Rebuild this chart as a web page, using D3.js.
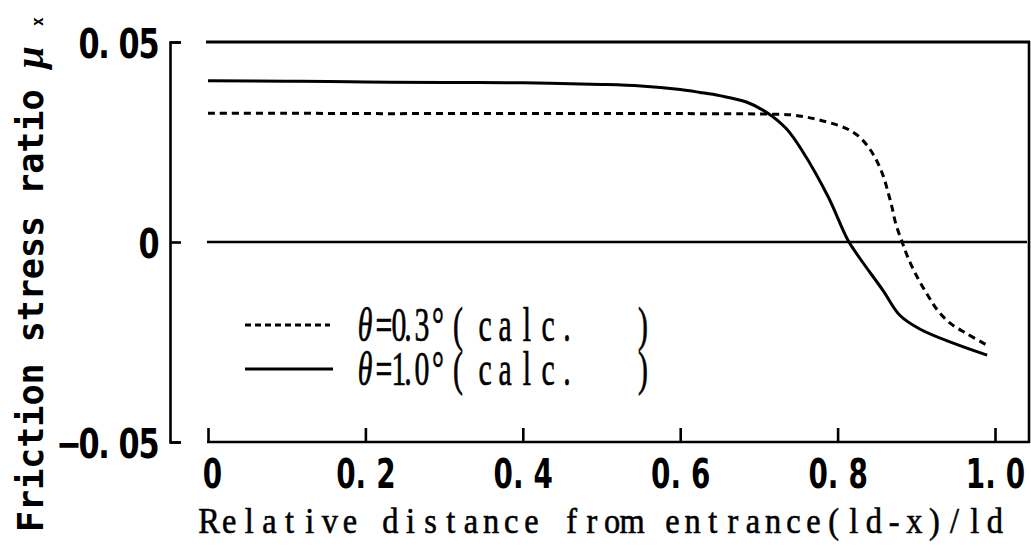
<!DOCTYPE html>
<html>
<head>
<meta charset="utf-8">
<script src="https://cdn.jsdelivr.net/npm/d3@7"></script>
<style>
  body { margin: 0; background: #fff; }
  svg { display: block; }
</style>
</head>
<body>
<svg id="chart" width="1031" height="552"></svg>
<script>
// ---- data ----
const xTickValues = [0, 0.2, 0.4, 0.6, 0.8, 1.0];
const xTickLabels = ["0", "0.2", "0.4", "0.6", "0.8", "1.0"];
const yTickValues = [-0.05, 0, 0.05];
const yTickLabels = ["\u22120.05", "0", "0.05"];
const legendAngles = ["0.3", "1.0"];

// theta = 0.3 deg (calc.)
const dist03  = [0.000, 0.100, 0.200, 0.300, 0.400, 0.500, 0.600, 0.700, 0.740, 0.761, 0.777, 0.800, 0.815, 0.828, 0.840, 0.850, 0.858, 0.864, 0.869, 0.874, 0.882, 0.889, 0.901, 0.913, 0.926, 0.943, 0.964, 0.989];
const ratio03 = [0.0322, 0.0322, 0.0321, 0.0321, 0.0321, 0.0321, 0.0321, 0.0320, 0.0318, 0.0312, 0.0305, 0.0292, 0.0280, 0.0262, 0.0235, 0.0202, 0.0165, 0.0125, 0.0088, 0.0045, 0.0000, -0.0037, -0.0087, -0.0128, -0.0168, -0.0203, -0.0229, -0.0257];

// theta = 1.0 deg (calc.)
const dist10  = [0.000, 0.100, 0.200, 0.300, 0.400, 0.500, 0.550, 0.600, 0.625, 0.650, 0.684, 0.710, 0.735, 0.756, 0.788, 0.813, 0.828, 0.858, 0.879, 0.905, 0.947, 0.990];
const ratio10 = [0.0403, 0.0402, 0.0400, 0.0399, 0.0398, 0.0394, 0.0390, 0.0381, 0.0374, 0.0366, 0.0350, 0.0324, 0.0283, 0.0225, 0.0113, 0.0005, -0.0040, -0.0122, -0.0183, -0.0218, -0.0253, -0.0283];

// ---- layout ----
const svg = d3.select("#chart");
svg.append("rect").attr("width", 1031).attr("height", 552).attr("fill", "#fff");

const x = d3.scaleLinear().domain([0, 1]).range([208, 995]);
const y = d3.scaleLinear().domain([-0.05, 0.05]).range([442, 42]);

const tickFont = "'DejaVu Sans', 'Liberation Sans', sans-serif";
const serifFont = "'Liberation Serif', 'DejaVu Serif', serif";

// fixed-pitch text: each glyph centred in its own cell, periods sit left in theirs
function cellText(parent, str, firstCenter, cell, baseline, sx, opts) {
  const chars = Array.from(str);
  const xs = chars.map((c, i) => (i * cell + (c === "." ? (opts.dotShift || 0) : 0)) / sx);
  const t = parent.append("text")
    .attr("transform", `translate(${firstCenter},${baseline}) scale(${sx},1)`)
    .attr("x", xs.join(" "))
    .attr("y", 0)
    .attr("text-anchor", "middle")
    .attr("font-family", opts.family)
    .attr("font-size", opts.size)
    .attr("font-weight", opts.weight || "normal")
    .attr("fill", "#000");
  if (opts.stroke) t.attr("stroke", "#000").attr("stroke-width", opts.stroke);
  t.text(str);
  return t;
}

// frame lines
svg.append("line")
  .attr("x1", 206).attr("x2", 1030)
  .attr("y1", y(0.05)).attr("y2", y(0.05))
  .attr("stroke", "#000").attr("stroke-width", 3);
svg.append("line")
  .attr("x1", 207).attr("x2", 1027)
  .attr("y1", y(0)).attr("y2", y(0))
  .attr("stroke", "#000").attr("stroke-width", 2.6);
svg.append("line")
  .attr("x1", 1029).attr("x2", 1029)
  .attr("y1", 41).attr("y2", 443)
  .attr("stroke", "#000").attr("stroke-width", 2.6);
svg.append("line")
  .attr("x1", 207).attr("x2", 1030)
  .attr("y1", y(-0.05)).attr("y2", y(-0.05))
  .attr("stroke", "#000").attr("stroke-width", 2.6);

// x axis: ticks point upward
const xAxisG = svg.append("g")
  .attr("transform", `translate(0,${y(-0.05)})`)
  .call(d3.axisBottom(x).tickValues(xTickValues).tickSizeInner(-14).tickSizeOuter(0).tickFormat(() => ""));
xAxisG.select(".domain").remove();
xAxisG.selectAll(".tick line").attr("stroke", "#000").attr("stroke-width", 2.6);
xAxisG.selectAll(".tick text").remove();
xAxisG.selectAll(".tick").each(function (d, i) {
  const lab = xTickLabels[i];
  const cell = 20;
  const first = (lab.length === 1 ? 4 : 0) - ((lab.length - 1) * cell) / 2;
  cellText(d3.select(this), lab, first, cell, 46, 0.68,
    { family: tickFont, size: 41, weight: "bold", dotShift: -5 });
});

// separate y axis: ticks point right
const yAxisG = svg.append("g")
  .attr("transform", "translate(170,0)")
  .call(d3.axisLeft(y).tickValues(yTickValues).tickSizeInner(-11).tickSizeOuter(-11).tickFormat(() => ""));
yAxisG.select(".domain").attr("stroke", "#000").attr("stroke-width", 2.6).attr("fill", "none");
yAxisG.selectAll(".tick line").attr("stroke", "#000").attr("stroke-width", 2.6);
yAxisG.selectAll(".tick text").remove();
yAxisG.selectAll(".tick").each(function (d, i) {
  const lab = Array.from(yTickLabels[i]);
  const cell = 20;
  const lastCenter = -21;
  const first = lastCenter - (lab.length - 1) * cell;
  cellText(d3.select(this), yTickLabels[i], first, cell, 15, 0.74,
    { family: tickFont, size: 41, weight: "bold", dotShift: -5 });
});

// curves
const line = d3.line()
  .x(d => x(d[0]))
  .y(d => y(d[1]))
  .curve(d3.curveCatmullRom.alpha(0.5));

svg.append("path")
  .datum(dist03.map((d, i) => [d, ratio03[i]]))
  .attr("d", line)
  .attr("fill", "none").attr("stroke", "#000").attr("stroke-width", 3)
  .attr("stroke-dasharray", "7,5");

svg.append("path")
  .datum(dist10.map((d, i) => [d, ratio10[i]]))
  .attr("d", line)
  .attr("fill", "none").attr("stroke", "#000").attr("stroke-width", 3);

// legend
const legendRows = [
  { y: 325, dash: "6,4", x2: 330, baseline: 341 },
  { y: 369, dash: null, x2: 333, baseline: 385 }
];
const legendSx = 0.62;
const legendCenters = [384, 399, 408, 422, 438, 458, 485, 505, 527, 548, 567, 643];
legendRows.forEach((r, i) => {
  svg.append("line")
    .attr("x1", 245).attr("x2", r.x2).attr("y1", r.y).attr("y2", r.y)
    .attr("stroke", "#000").attr("stroke-width", 3)
    .attr("stroke-dasharray", r.dash);
  const t = svg.append("text")
    .attr("transform", `translate(0,${r.baseline}) scale(${legendSx},1)`)
    .attr("y", 0)
    .attr("text-anchor", "middle")
    .attr("font-family", serifFont)
    .attr("font-size", 48)
    .attr("fill", "#000")
    .attr("stroke", "#000").attr("stroke-width", 0.7);
  t.append("tspan").attr("x", 365 / legendSx).attr("font-style", "italic").text("\u03b8");
  const rest = "=" + legendAngles[i] + "\u00b0(calc.)";
  t.append("tspan").attr("x", legendCenters.map(v => v / legendSx).join(" ")).text(rest);
});

// x axis title, fixed-pitch layout
const xTitle = "Relative distance from entrance(ld-x)/ld";
cellText(svg, xTitle, 209, 20.15, 533, 0.9, { family: serifFont, size: 36, stroke: 0.6 });

// y axis title
const yTitle = svg.append("text")
  .attr("transform", "translate(43,532) rotate(-90)")
  .attr("font-family", "'DejaVu Sans Mono', monospace")
  .attr("font-size", 35)
  .attr("font-weight", "bold")
  .attr("fill", "#000");
yTitle.append("tspan").text("Friction stress ratio ");
yTitle.append("tspan").attr("font-family", serifFont).attr("font-style", "italic").attr("font-size", 40).text("\u03bc");
yTitle.append("tspan").attr("dx", 20).attr("font-size", 15).text("x");
</script>
</body>
</html>
